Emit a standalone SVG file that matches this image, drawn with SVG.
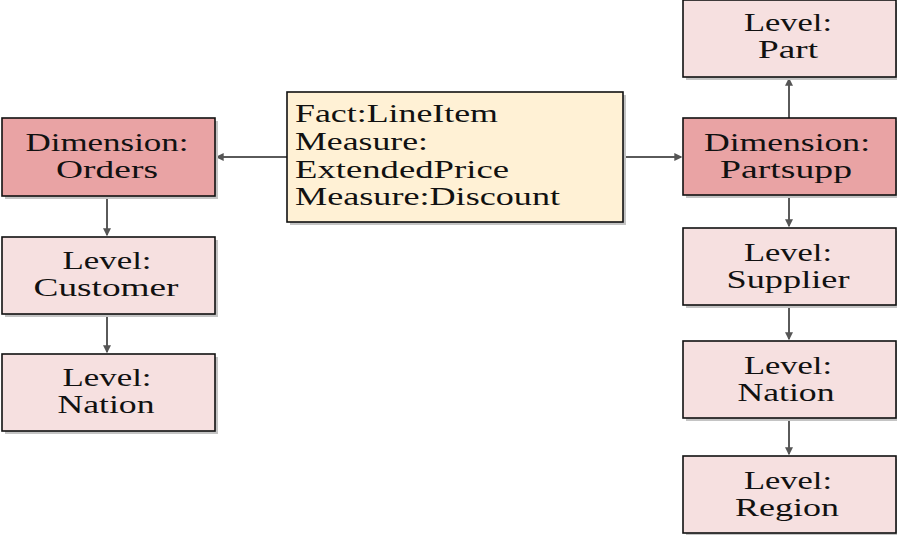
<svg xmlns="http://www.w3.org/2000/svg" width="897" height="535" viewBox="0 0 897 535">
  <defs>
    <marker id="arrow" viewBox="0 0 6 6" refX="5" refY="3" markerWidth="4" markerHeight="4" orient="auto" markerUnits="strokeWidth">
      <path d="M0,0 L6,3 L0,6 Z" fill="#555555"/>
    </marker>
  </defs>
  <style>
    .shadow { fill: #c4c4c4; }
    .box { stroke: #111111; stroke-width: 1.6; }
    .dim { fill: #e9a3a4; }
    .lvl { fill: #f6e0e0; }
    .fact { fill: #fff1d5; }
    text { font-family: "Liberation Serif", "Times New Roman", serif; font-size: 25px; fill: #111111; }
    .c { text-anchor: middle; }
    .edge { stroke: #5a5a5a; stroke-width: 2; fill: none; marker-end: url(#arrow); }
  </style>

  <rect width="897" height="535" fill="#ffffff"/>

  <!-- connectors -->
  <g id="connectors">
    <line class="edge" x1="287" y1="157" x2="217" y2="157"/>
    <line class="edge" x1="623" y1="157" x2="681" y2="157"/>
    <line class="edge" x1="107" y1="197" x2="107" y2="235"/>
    <line class="edge" x1="107" y1="314" x2="107" y2="352"/>
    <line class="edge" x1="789" y1="118" x2="789" y2="79"/>
    <line class="edge" x1="789" y1="196" x2="789" y2="226"/>
    <line class="edge" x1="789" y1="306" x2="789" y2="339"/>
    <line class="edge" x1="789" y1="419" x2="789" y2="454"/>
  </g>

  <!-- fact table (labels are stretched 1.45x horizontally) -->
  <g id="fact-lineitem">
    <rect class="shadow" x="290" y="95" width="336" height="130"/>
    <rect class="box fact" x="287" y="92" width="336" height="130"/>
    <text transform="translate(295,122) scale(1.45,1)" textLength="140" lengthAdjust="spacingAndGlyphs">Fact:LineItem</text>
    <text transform="translate(295,150) scale(1.45,1)" textLength="91.7" lengthAdjust="spacingAndGlyphs">Measure:</text>
    <text transform="translate(295,178) scale(1.45,1)" textLength="147.6" lengthAdjust="spacingAndGlyphs">ExtendedPrice</text>
    <text transform="translate(295,205) scale(1.45,1)" textLength="182.8" lengthAdjust="spacingAndGlyphs">Measure:Discount</text>
  </g>

  <!-- left branch -->
  <g id="dim-orders">
    <rect class="shadow" x="5" y="121" width="213" height="78"/>
    <rect class="box dim" x="2" y="118" width="213" height="78"/>
    <text class="c" transform="translate(107,151) scale(1.45,1)" textLength="112.4" lengthAdjust="spacingAndGlyphs">Dimension:</text>
    <text class="c" transform="translate(107,178) scale(1.45,1)" textLength="70.3" lengthAdjust="spacingAndGlyphs">Orders</text>
  </g>
  <g id="level-customer">
    <rect class="shadow" x="5" y="240" width="213" height="77"/>
    <rect class="box lvl" x="2" y="237" width="213" height="77"/>
    <text class="c" transform="translate(107,269) scale(1.45,1)" textLength="61.4" lengthAdjust="spacingAndGlyphs">Level:</text>
    <text class="c" transform="translate(106,296) scale(1.45,1)" textLength="100" lengthAdjust="spacingAndGlyphs">Customer</text>
  </g>
  <g id="level-nation-left">
    <rect class="shadow" x="5" y="357" width="213" height="77"/>
    <rect class="box lvl" x="2" y="354" width="213" height="77"/>
    <text class="c" transform="translate(107,386) scale(1.45,1)" textLength="61.4" lengthAdjust="spacingAndGlyphs">Level:</text>
    <text class="c" transform="translate(106,413) scale(1.45,1)" textLength="66.9" lengthAdjust="spacingAndGlyphs">Nation</text>
  </g>

  <!-- right branch -->
  <g id="level-part">
    <rect class="shadow" x="686" y="3" width="213" height="77"/>
    <rect class="box lvl" x="683" y="0" width="213" height="77"/>
    <text class="c" transform="translate(788,31) scale(1.45,1)" textLength="60.7" lengthAdjust="spacingAndGlyphs">Level:</text>
    <text class="c" transform="translate(788,58) scale(1.45,1)" textLength="41.4" lengthAdjust="spacingAndGlyphs">Part</text>
  </g>
  <g id="dim-partsupp">
    <rect class="shadow" x="686" y="121" width="213" height="77"/>
    <rect class="box dim" x="683" y="118" width="213" height="77"/>
    <text class="c" transform="translate(787,151) scale(1.45,1)" textLength="114.5" lengthAdjust="spacingAndGlyphs">Dimension:</text>
    <text class="c" transform="translate(786,178) scale(1.45,1)" textLength="91" lengthAdjust="spacingAndGlyphs">Partsupp</text>
  </g>
  <g id="level-supplier">
    <rect class="shadow" x="686" y="231" width="213" height="77"/>
    <rect class="box lvl" x="683" y="228" width="213" height="77"/>
    <text class="c" transform="translate(788,261) scale(1.45,1)" textLength="60.7" lengthAdjust="spacingAndGlyphs">Level:</text>
    <text class="c" transform="translate(788,288) scale(1.45,1)" textLength="84.8" lengthAdjust="spacingAndGlyphs">Supplier</text>
  </g>
  <g id="level-nation-right">
    <rect class="shadow" x="686" y="344" width="213" height="77"/>
    <rect class="box lvl" x="683" y="341" width="213" height="77"/>
    <text class="c" transform="translate(788,374) scale(1.45,1)" textLength="60.7" lengthAdjust="spacingAndGlyphs">Level:</text>
    <text class="c" transform="translate(786,401) scale(1.45,1)" textLength="66.9" lengthAdjust="spacingAndGlyphs">Nation</text>
  </g>
  <g id="level-region">
    <rect class="shadow" x="686" y="459" width="213" height="77"/>
    <rect class="box lvl" x="683" y="456" width="213" height="77"/>
    <text class="c" transform="translate(788,489) scale(1.45,1)" textLength="60.7" lengthAdjust="spacingAndGlyphs">Level:</text>
    <text class="c" transform="translate(787,516) scale(1.45,1)" textLength="71.7" lengthAdjust="spacingAndGlyphs">Region</text>
  </g>
</svg>
